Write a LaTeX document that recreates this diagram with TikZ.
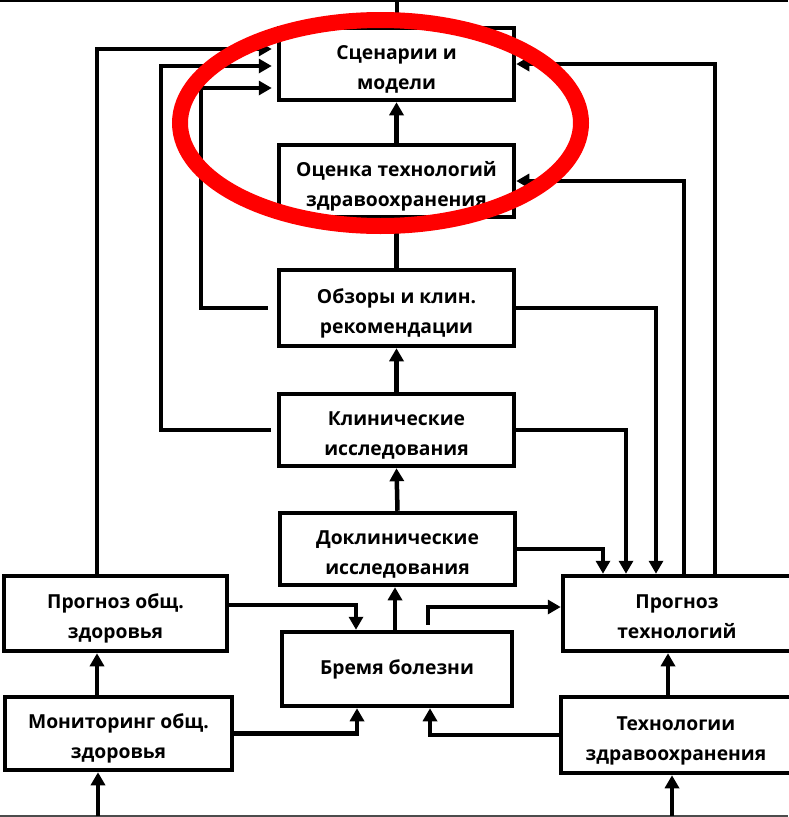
\documentclass[tikz,border=0pt]{standalone}
\usepackage{fontspec}
\setmainfont{Open Sans}
\usetikzlibrary{arrows.meta}

% two centred lines, set a little below the middle of the box
\newcommand\twoline[2]{\raisebox{-4pt}[\height][\depth]{\begin{tabular}{@{}c@{}}#1\\#2\end{tabular}}}

\tikzset{
  box/.style={draw=black, line width=4.5pt, fill=white, align=center,
    font=\bfseries\fontsize{19.3pt}{30pt}\selectfont, inner sep=0pt},
  link/.style={draw=black, line width=4.5pt},
  arr/.style={link, -{Triangle[length=13pt,width=14pt]}},
  halo/.style={draw=red, line width=16pt}
}

\begin{document}
\begin{tikzpicture}[x=1pt,y=-1pt]
\useasboundingbox (0,0) rectangle (788,817);

% frame lines at the top and bottom edges
\draw[black, line width=1.5pt] (0,0.75) -- (788,0.75);
\draw[black!70, line width=1.5pt] (0,816) -- (788,816);

% central column
\node[box, minimum width=235pt, minimum height=72pt] (scen) at (396.5,64) {\twoline{Сценарии и}{модели}};
\node[box, minimum width=235pt, minimum height=72pt] (hta) at (396.5,181) {\twoline{Оценка технологий}{здравоохранения}};
\node[box, minimum width=235pt, minimum height=76pt] (obz) at (396.5,308) {\twoline{Обзоры и клин.}{рекомендации}};
\node[box, minimum width=235pt, minimum height=72pt] (klin) at (396.5,430) {\twoline{Клинические}{исследования}};
\node[box, minimum width=235pt, minimum height=72pt] (dokl) at (397.5,549) {\twoline{Доклинические}{исследования}};
\node[box, minimum width=230pt, minimum height=74pt] (burden) at (397,669) {Бремя болезни};

% left column
\node[box, minimum width=223pt, minimum height=75pt] (pgh) at (115.5,613.5) {\twoline{Прогноз общ.}{здоровья}};
\node[box, minimum width=227pt, minimum height=73pt] (mon) at (118.5,733.5) {\twoline{Мониторинг общ.}{здоровья}};

% right column
\node[box, minimum width=228pt, minimum height=75pt] (ptech) at (677,613.5) {\twoline{Прогноз}{технологий}};
\node[box, minimum width=230pt, minimum height=76pt] (tech) at (676,735) {\twoline{Технологии}{здравоохранения}};

% lanes and levels of the routed connectors
\coordinate (a1) at (97,49);
\coordinate (b1) at (161,66);
\coordinate (c1) at (201,88);
\coordinate (d1) at (603,0);
\coordinate (e1) at (626,0);
\coordinate (f1) at (656,0);
\coordinate (g1) at (684,0);
\coordinate (h1) at (715,0);
\coordinate (i1) at (428,607);
\coordinate (j1) at (356,605);
\coordinate (k1) at (357,0);
\coordinate (l1) at (430,0);
\coordinate (m1) at (97,0);
\coordinate (n1) at (668,0);
\coordinate (botL) at (98,816);
\coordinate (botR) at (672,816);
\coordinate (topC) at (397,0);

% main vertical chain
\draw[arr] (hta.north) -- (scen.south);
\draw[arr] (obz.north) -- (hta.south);
\draw[arr] (klin.north) -- (obz.south);
\draw[arr] (dokl.north) -- (klin.south);
\draw[arr] ([xshift=-2pt]burden.north) -- ([xshift=-2.5pt]dokl.south);
\draw[link] (scen.north -| topC) -- (topC);

% feedback into the scenarios box from the left
\draw[arr] (pgh.north -| a1) |- ([xshift=-5pt]scen.west |- a1);
\draw[arr] ([xshift=-6pt]klin.west) -| (b1) -- ([xshift=-5pt]scen.west |- b1);
\draw[arr] ([xshift=-9pt]obz.west) -| (c1) -- ([xshift=-5pt]scen.west |- c1);

% links into the technology forecast from the right side of the column
\draw[arr] (dokl.east) -| (ptech.north -| d1);
\draw[arr] (klin.east) -| (ptech.north -| e1);
\draw[arr] (obz.east) -| (ptech.north -| f1);
\draw[arr] (ptech.north -| g1) |- (hta.east);
\draw[arr] (ptech.north -| h1) |- (scen.east);

% lower part
\draw[arr] ([yshift=5pt]burden.north -| i1) |- (ptech.west |- i1);
\draw[arr] (pgh.east |- j1) -| (burden.north -| j1);
\draw[arr] (mon.east) -| (burden.south -| k1);
\draw[arr] (tech.west) -| (burden.south -| l1);
\draw[arr] (mon.north -| m1) -- (pgh.south -| m1);
\draw[arr] (tech.north -| n1) -- (ptech.south -| n1);
\draw[arr] (botL) -- (mon.south -| botL);
\draw[arr] (botR) -- (tech.south -| botR);

% red highlight round the top two boxes
\draw[halo] (380.5,123) ellipse [x radius=200.5pt, y radius=103pt];
\end{tikzpicture}
\end{document}
